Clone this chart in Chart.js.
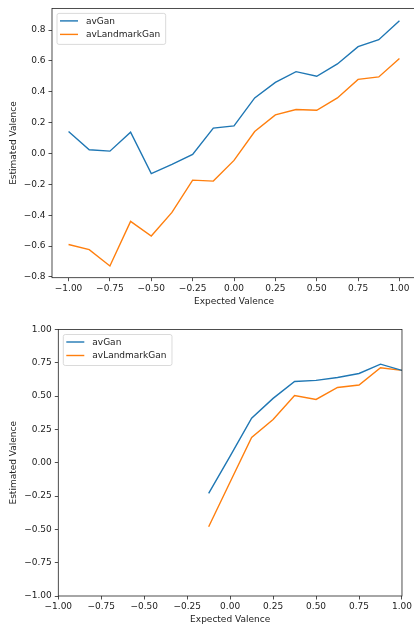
<!DOCTYPE html>
<html>
<head>
<meta charset="utf-8">
<script src="https://cdn.jsdelivr.net/npm/chart.js@4.4.1/dist/chart.umd.min.js"></script>
<style>
  html, body { margin: 0; padding: 0; background: #fff; overflow: hidden; }
  body { width: 414px; height: 625px; position: relative; }
  canvas { position: absolute; left: 0; }
  #topChart { top: 0; }
  #bottomChart { top: 312px; }
</style>
</head>
<body>
<canvas id="topChart" width="420" height="312"></canvas>
<canvas id="bottomChart" width="414" height="313"></canvas>
<script>
// Data
const seriesLabels = ['avGan', 'avLandmarkGan'];

// Top panel
const topX = [-1, -0.875, -0.75, -0.625, -0.5, -0.375, -0.25, -0.125, 0, 0.125, 0.25, 0.375, 0.5, 0.625, 0.75, 0.875, 1];
const topAvGan = [0.142, 0.024, 0.015, 0.138, -0.131, -0.071, -0.006, 0.164, 0.179, 0.36, 0.461, 0.53, 0.5, 0.58, 0.692, 0.737, 0.86];
const topAvLandmarkGan = [-0.59, -0.623, -0.729, -0.44, -0.535, -0.382, -0.173, -0.179, -0.045, 0.142, 0.25, 0.285, 0.28, 0.36, 0.48, 0.496, 0.616];
const topXTicks = [-1, -0.75, -0.5, -0.25, 0, 0.25, 0.5, 0.75, 1];
const topYTicks = [-0.8, -0.6, -0.4, -0.2, 0, 0.2, 0.4, 0.6, 0.8];

// Bottom panel
const bottomX = [-0.125, 0, 0.125, 0.25, 0.375, 0.5, 0.625, 0.75, 0.875, 1];
const bottomAvGan = [-0.23, 0.05, 0.335, 0.483, 0.61, 0.618, 0.64, 0.67, 0.74, 0.693];
const bottomAvLandmarkGan = [-0.48, -0.145, 0.19, 0.325, 0.505, 0.475, 0.565, 0.583, 0.713, 0.693];
const bottomXTicks = [-1, -0.75, -0.5, -0.25, 0, 0.25, 0.5, 0.75, 1];
const bottomYTicks = [-1, -0.75, -0.5, -0.25, 0, 0.25, 0.5, 0.75, 1];

const colors = ['#1f77b4', '#ff7f0e'];
const FONT = 'DejaVu Sans';
const TEXT = '#222';

// matplotlib style tick text, with a real minus sign
function fmt(v, digits) {
    const s = Math.abs(v).toFixed(digits);
    return (v < -1e-9 ? '\u2212' : '') + s;
}

// Axes frame (all four spines)
const framePlugin = {
    id: 'frame',
    afterDatasetsDraw(chart) {
        const a = chart.chartArea;
        const ctx = chart.ctx;
        ctx.save();
        ctx.strokeStyle = TEXT;
        ctx.lineWidth = 0.8;
        ctx.strokeRect(a.left, a.top, a.right - a.left, a.bottom - a.top);
        ctx.restore();
    }
};

// Boxed legend in the upper left corner, like matplotlib
const boxLegendPlugin = {
    id: 'boxLegend',
    afterDraw(chart) {
        const a = chart.chartArea;
        const ctx = chart.ctx;
        const sets = chart.data.datasets;
        ctx.save();
        ctx.font = '9px "' + FONT + '"';
        let textW = 0;
        sets.forEach(ds => { textW = Math.max(textW, ctx.measureText(ds.label).width); });
        const x = a.left + 4.5, y = a.top + 4.5;
        const w = 4.5 + 18 + 7.5 + textW + 4.5;
        const h = 31;
        ctx.beginPath();
        ctx.roundRect(x + 0.5, y + 0.5, w, h, 2);
        ctx.fillStyle = 'rgba(255,255,255,0.8)';
        ctx.fill();
        ctx.strokeStyle = '#d0d0d0';
        ctx.lineWidth = 0.8;
        ctx.stroke();
        sets.forEach((ds, i) => {
            const cy = y + 8 + i * 13.5;
            ctx.beginPath();
            ctx.moveTo(x + 3.5, cy);
            ctx.lineTo(x + 21.5, cy);
            ctx.strokeStyle = ds.borderColor;
            ctx.lineWidth = 1.4;
            ctx.stroke();
            ctx.fillStyle = TEXT;
            ctx.textBaseline = 'middle';
            ctx.fillText(ds.label, x + 29.5, cy + 0.5);
        });
        ctx.restore();
    }
};

function makeChart(id, xs, ys1, ys2, opts) {
    const ctx = document.getElementById(id);
    const toPoints = ys => xs.map((x, i) => ({ x: x, y: ys[i] }));
    return new Chart(ctx, {
        type: 'line',
        data: {
            datasets: [ys1, ys2].map((ys, i) => ({
                label: seriesLabels[i],
                data: toPoints(ys),
                borderColor: colors[i],
                backgroundColor: colors[i],
                borderWidth: 1.4,
                pointRadius: 0,
                tension: 0,
                fill: false
            }))
        },
        options: {
            responsive: false,
            animation: false,
            layout: { padding: opts.padding },
            plugins: {
                legend: { display: false },
                tooltip: { enabled: false }
            },
            scales: {
                x: {
                    type: 'linear',
                    min: opts.xMin,
                    max: opts.xMax,
                    afterBuildTicks: s => { s.ticks = opts.xTicks.map(v => ({ value: v })); },
                    afterFit: s => { s.height = opts.xAxisHeight; },
                    ticks: {
                        color: TEXT,
                        font: { family: FONT, size: 9 },
                        padding: 2,
                        maxRotation: 0,
                        autoSkip: false,
                        callback: v => fmt(v, 2)
                    },
                    grid: { drawOnChartArea: false, drawTicks: true, tickLength: 3.5, color: TEXT, lineWidth: 0.8 },
                    border: { display: false },
                    title: {
                        display: true,
                        text: 'Expected Valence',
                        color: TEXT,
                        font: { family: FONT, size: 9 },
                        padding: { top: 0, bottom: opts.xTitlePad }
                    }
                },
                y: {
                    type: 'linear',
                    min: opts.yMin,
                    max: opts.yMax,
                    afterBuildTicks: s => { s.ticks = opts.yTicks.map(v => ({ value: v })); },
                    afterFit: s => { s.width = opts.yAxisWidth; },
                    ticks: {
                        color: TEXT,
                        font: { family: FONT, size: 9 },
                        padding: 3,
                        autoSkip: false,
                        callback: v => fmt(v, opts.yDigits)
                    },
                    grid: { drawOnChartArea: false, drawTicks: true, tickLength: 3.5, color: TEXT, lineWidth: 0.8 },
                    border: { display: false },
                    title: {
                        display: true,
                        text: 'Estimated Valence',
                        color: TEXT,
                        font: { family: FONT, size: 9 },
                        padding: { top: 8, bottom: 0 }
                    }
                }
            }
        },
        plugins: [framePlugin, boxLegendPlugin]
    });
}

makeChart('topChart', topX, topAvGan, topAvLandmarkGan, {
    padding: { top: 7.5, right: 4, left: 0, bottom: 0 },
    xMin: -1.1, xMax: 1.1,
    yMin: -0.805, yMax: 0.94,
    xTicks: topXTicks, yTicks: topYTicks,
    yDigits: 1,
    xAxisHeight: 34.3,
    yAxisWidth: 52,
    xTitlePad: 5
});

makeChart('bottomChart', bottomX, bottomAvGan, bottomAvLandmarkGan, {
    padding: { top: 17.5, right: 9, left: 0, bottom: 0 },
    xMin: -1, xMax: 1,
    yMin: -1, yMax: 1,
    xTicks: bottomXTicks, yTicks: bottomYTicks,
    yDigits: 2,
    xAxisHeight: 29,
    yAxisWidth: 58.3,
    xTitlePad: 0
});
</script>
</body>
</html>
